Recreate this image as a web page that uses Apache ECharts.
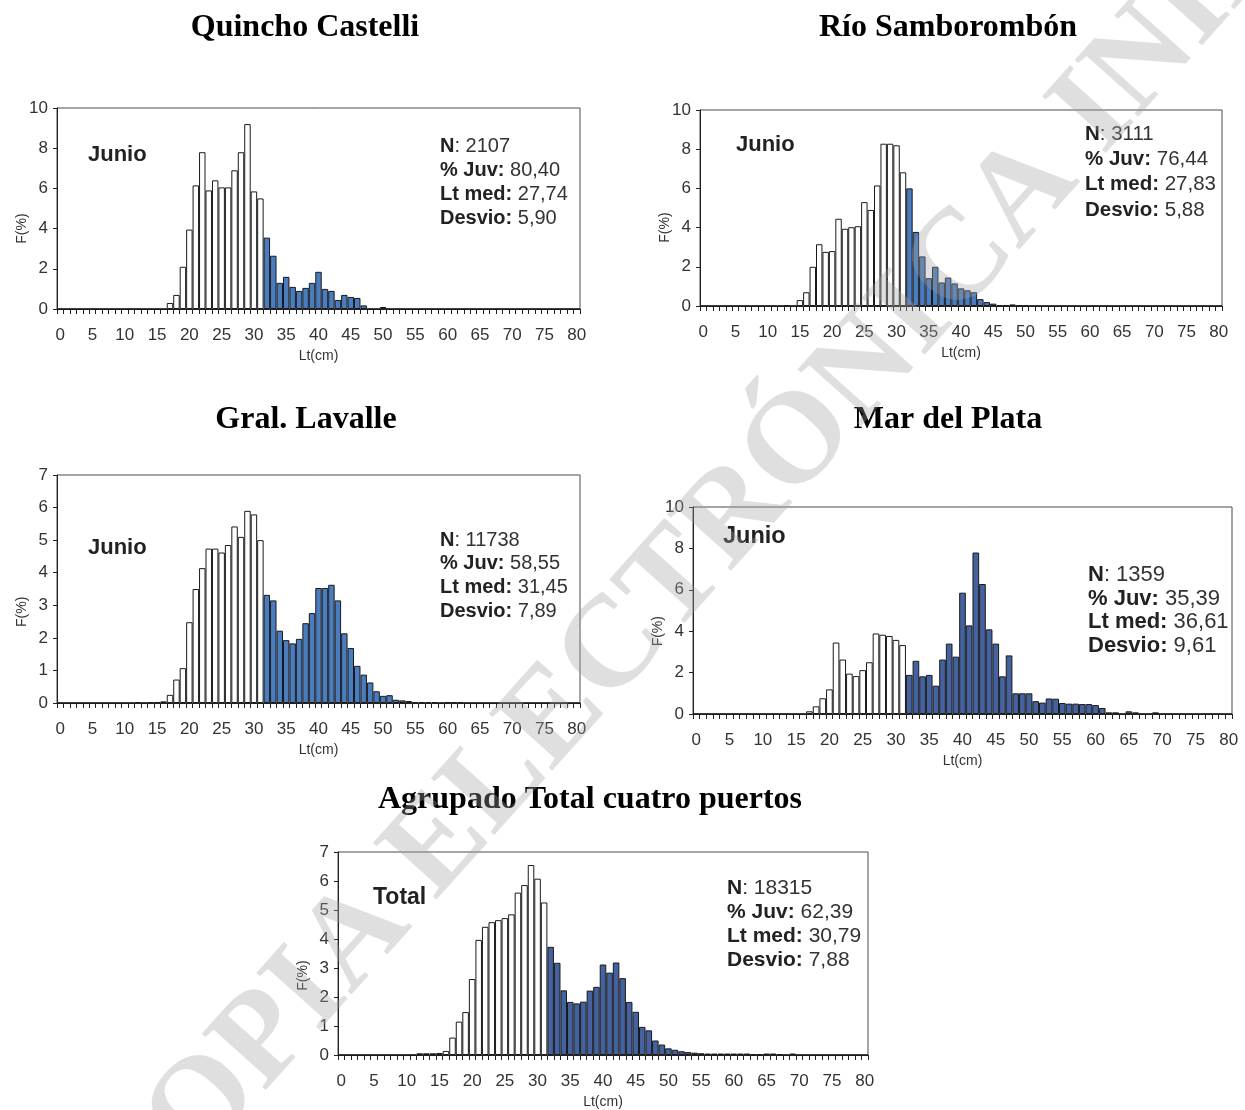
<!DOCTYPE html>
<html>
<head>
<meta charset="utf-8">
<script src="https://cdn.jsdelivr.net/npm/echarts@6/dist/echarts.min.js"></script>
<style>
html,body{margin:0;padding:0;background:#fff;}
#c{width:1245px;height:1110px;}
</style>
</head>
<body>
<div id="c"></div>
<script>
// ---- data ----
const categories = [];
for (let i = 0; i <= 80; i++) categories.push(String(i));
const JUV_LIMIT = 32; // bins below this length are juveniles (white)

const titles = ['Quincho Castelli', 'Río Samborombón', 'Gral. Lavalle', 'Mar del Plata', 'Agrupado Total cuatro puertos'];
const monthLabels = ['Junio', 'Junio', 'Junio', 'Junio', 'Total'];
const statN = ['2107', '3111', '11738', '1359', '18315'];
const statJuv = ['80,40', '76,44', '58,55', '35,39', '62,39'];
const statLtMed = ['27,74', '27,83', '31,45', '36,61', '30,79'];
const statDesvio = ['5,90', '5,88', '7,89', '9,61', '7,88'];
const yMax = [10, 10, 7, 10, 7];
const yInterval = [2, 2, 1, 2, 1];

// frequency (%) by 1-cm length class, starting at the given class
const quinchoStart = 17;
const quinchoFreq = [0.3, 0.7, 2.1, 3.95, 6.15, 7.8, 5.9, 6.4, 6.05, 6.05, 6.9, 7.8, 9.2, 5.85, 5.5,
  3.55, 2.65, 1.3, 1.6, 1.1, 0.9, 1.05, 1.3, 1.85, 1.0, 0.9, 0.45, 0.7, 0.6, 0.55, 0.18, 0, 0, 0.1];
const rioStart = 13;
const rioFreq = [0.05, 0, 0.3, 0.7, 2.0, 3.15, 2.76, 2.8, 4.45, 3.94, 4.02, 4.07, 5.3, 4.9, 6.15, 8.28, 8.28, 8.2, 6.82,
  6.0, 3.78, 2.53, 1.42, 2.0, 1.2, 1.45, 1.15, 0.9, 0.8, 0.7, 0.35, 0.2, 0.12, 0.05, 0.03, 0.08, 0.03, 0.03];
const lavalleStart = 12;
const lavalleFreq = [0.03, 0, 0.03, 0.03, 0.05, 0.25, 0.72, 1.07, 2.48, 3.5, 4.14, 4.74, 4.74, 4.62, 4.85, 5.42, 5.1, 5.9, 5.79, 5.0,
  3.32, 3.15, 2.22, 1.93, 1.83, 1.97, 2.45, 2.76, 3.53, 3.53, 3.63, 3.15, 2.14, 1.69, 1.14, 0.87, 0.63, 0.36, 0.22, 0.24,
  0.1, 0.08, 0.06, 0.03, 0.03, 0.03, 0.03, 0, 0.03, 0.03, 0.03];
const mdpStart = 17;
const mdpFreq = [0.13, 0.37, 0.76, 1.19, 3.45, 2.63, 1.95, 1.83, 2.12, 2.5, 3.89, 3.83, 3.77, 3.58, 3.33,
  1.89, 2.57, 1.82, 1.89, 1.37, 2.63, 3.4, 2.77, 5.86, 4.28, 7.8, 6.28, 4.09, 3.4, 1.82, 2.83, 1.0, 1.0, 1.0,
  0.62, 0.55, 0.75, 0.74, 0.53, 0.5, 0.5, 0.48, 0.48, 0.43, 0.29, 0.08, 0.08, 0, 0.13, 0.08, 0, 0, 0.08];
const totalStart = 12;
const totalFreq = [0.06, 0.06, 0.06, 0.07, 0.14, 0.6, 1.15, 1.48, 2.62, 3.97, 4.42, 4.58, 4.65, 4.72, 4.85, 5.6, 5.86, 6.55, 6.08, 5.26,
  3.73, 3.18, 2.23, 1.83, 1.78, 1.84, 2.22, 2.35, 3.12, 2.84, 3.19, 2.65, 1.83, 1.49, 0.97, 0.85, 0.5, 0.36, 0.23, 0.18,
  0.13, 0.1, 0.08, 0.06, 0.05, 0.05, 0.05, 0.05, 0.05, 0.05, 0.05, 0.03, 0.03, 0.05, 0.05, 0.03, 0, 0.05];

const starts = [quinchoStart, rioStart, lavalleStart, mdpStart, totalStart];
const freqs = [quinchoFreq, rioFreq, lavalleFreq, mdpFreq, totalFreq];

// ---- layout / style ----
const grids = [
  {left: 57, top: 108, width: 523, height: 201},
  {left: 700, top: 110, width: 522, height: 196},
  {left: 57, top: 475, width: 523, height: 228},
  {left: 693, top: 507, width: 539, height: 207},
  {left: 338, top: 852, width: 530, height: 206}
];
const blueColors = ['#4a7cc0', '#4a7cc0', '#4a7cc0', '#44629f', '#44629f'];
const titlePos = [[305, 28], [948, 28], [306, 420], [948, 420], [590, 800]];
const monthPos = [[88, 155], [736, 145], [88, 548], [723, 537], [373, 898]];
const statPos = [[440, 146, 24.3], [1085, 134, 25.3], [440, 540, 23.7], [1088, 575, 23.7], [727, 888, 24]];
const statFont = [20, 20.5, 20, 22, 21];
const monthFont = [22, 22, 22, 23.5, 23];

const SANS = '"Liberation Sans", Arial, sans-serif';

function buildData(k) {
  const arr = [];
  for (let i = 0; i < categories.length; i++) {
    const j = i - starts[k];
    const v = (j >= 0 && j < freqs[k].length) ? freqs[k][j] : 0;
    arr.push({
      value: v,
      itemStyle: {color: i < JUV_LIMIT ? '#ffffff' : blueColors[k]}
    });
  }
  return arr;
}

const option = {
  animation: false,
  backgroundColor: '#fff',
  grid: [], xAxis: [], yAxis: [], series: [], graphic: []
};

for (let k = 0; k < 5; k++) {
  const g = grids[k];
  option.grid.push(Object.assign({show: true, borderColor: '#4a4a4a', borderWidth: 1, backgroundColor: 'transparent'}, g));
  option.xAxis.push({
    type: 'category', gridIndex: k, data: categories, boundaryGap: true,
    axisLine: {lineStyle: {color: '#222', width: 1}},
    axisTick: {show: true, interval: 0, length: 5, lineStyle: {color: '#222'}},
    axisLabel: {interval: 4, fontSize: 17, color: '#333', margin: 18, fontFamily: SANS},
    name: 'Lt(cm)', nameLocation: 'middle', nameGap: 40,
    nameTextStyle: {fontSize: 14, color: '#333', fontFamily: SANS},
    splitLine: {show: false}
  });
  option.yAxis.push({
    type: 'value', gridIndex: k, min: 0, max: yMax[k], interval: yInterval[k],
    axisLine: {show: true, lineStyle: {color: '#222'}},
    axisTick: {show: true, length: 4, lineStyle: {color: '#222'}},
    axisLabel: {fontSize: 17, color: '#333', margin: 9, fontFamily: SANS},
    splitLine: {show: false}
  });
  option.series.push({
    type: 'bar', xAxisIndex: k, yAxisIndex: k,
    barCategoryGap: '0%', barGap: '0%',
    itemStyle: {borderColor: '#1a1a1a', borderWidth: 1},
    data: buildData(k)
  });

  // title
  option.graphic.push({
    type: 'text', x: titlePos[k][0], y: titlePos[k][1], z: 10,
    style: {text: titles[k], font: 'bold 32px "Liberation Serif", "Times New Roman", serif', fill: '#000',
      align: 'center', verticalAlign: 'middle', textAlign: 'center', textVerticalAlign: 'middle'}
  });
  // month label
  option.graphic.push({
    type: 'text', x: monthPos[k][0], y: monthPos[k][1], z: 10,
    style: {text: monthLabels[k], font: 'bold ' + monthFont[k] + 'px ' + SANS, fill: '#222',
      align: 'left', verticalAlign: 'middle', textAlign: 'left', textVerticalAlign: 'middle'}
  });
  // F(%) label
  option.graphic.push({
    type: 'text', x: g.left - 35, y: g.top + g.height * 0.6, rotation: Math.PI / 2, z: 10,
    style: {text: 'F(%)', font: '14px ' + SANS, fill: '#333',
      align: 'center', verticalAlign: 'middle', textAlign: 'center', textVerticalAlign: 'middle'}
  });
  // stats
  const lines = [['N', ': ' + statN[k]], ['% Juv:', ' ' + statJuv[k]], ['Lt med:', ' ' + statLtMed[k]], ['Desvio:', ' ' + statDesvio[k]]];
  lines.forEach(function (ln, li) {
    option.graphic.push({
      type: 'text', x: statPos[k][0], y: statPos[k][1] + li * statPos[k][2], z: 10,
      style: {
        text: '{b|' + ln[0] + '}{r|' + ln[1] + '}',
        rich: {
          b: {fontWeight: 'bold', fontSize: statFont[k], fontFamily: SANS, fill: '#222', color: '#222'},
          r: {fontWeight: 'normal', fontSize: statFont[k], fontFamily: SANS, fill: '#333', color: '#333'}
        },
        font: statFont[k] + 'px ' + SANS,
        align: 'left', verticalAlign: 'middle', textAlign: 'left', textVerticalAlign: 'middle'
      }
    });
  });
}

// watermark
option.graphic.push({
  type: 'text', x: 745, y: 505, rotation: 0.84, z: 100, silent: true,
  style: {text: 'COPIA ELECTRÓNICA INIDEP', font: 'bold 130px "Liberation Serif", serif',
    fill: 'rgba(160,160,160,0.34)',
    align: 'center', verticalAlign: 'middle', textAlign: 'center', textVerticalAlign: 'middle'}
});

const chart = echarts.init(document.getElementById('c'), null, {renderer: 'canvas'});
chart.setOption(option);
</script>
</body>
</html>
